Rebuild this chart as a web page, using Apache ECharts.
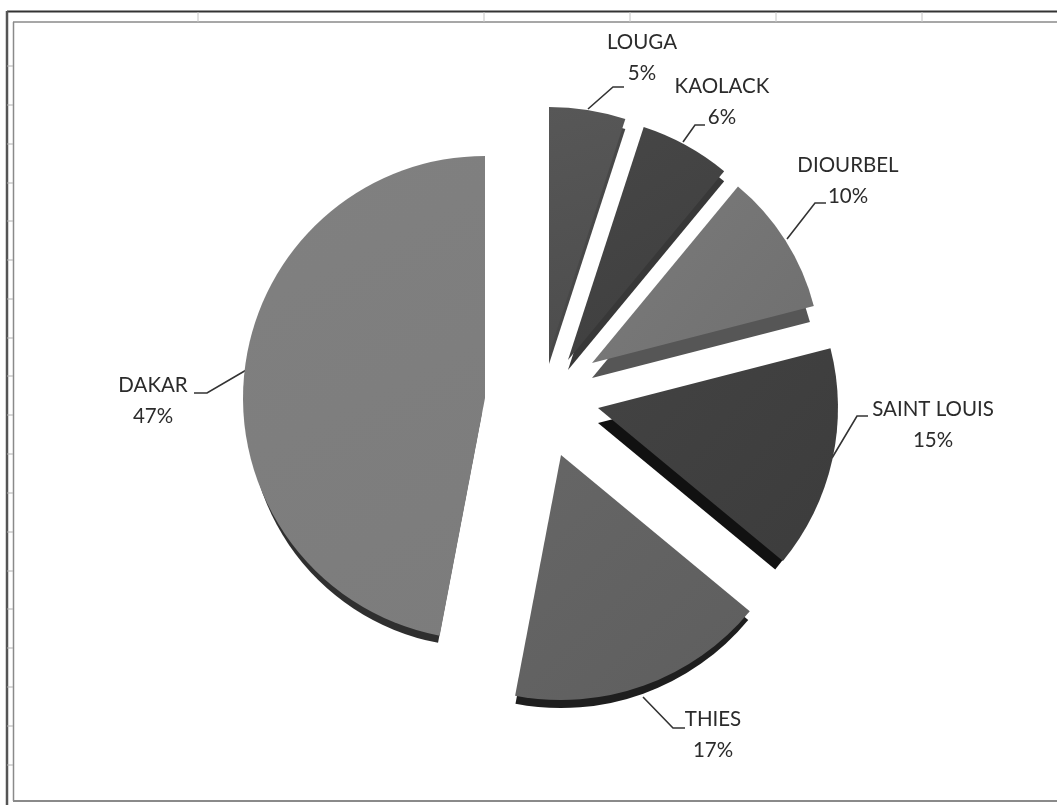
<!DOCTYPE html>
<html><head><meta charset="utf-8">
<style>html,body{margin:0;padding:0;background:#fff}#c{width:1057px;height:805px}</style>
<script src="https://cdn.jsdelivr.net/npm/echarts@6/dist/echarts.min.js"></script>
</head><body><div id="c"></div>
<script>
const categories = ['LOUGA','KAOLACK','DIOURBEL','SAINT LOUIS','THIES','DAKAR'];
const shares = [5,6,10,15,17,47];

// layout of each exploded slice (apex in px, radius)
const apexes = [[549,354],[568,360],[592,363],[598,408],[561,455],[485,398]];
const radii = [247,245,229,240,245,242];
// side face: dx, dy of the copy behind, and how much smaller its radius is
const sides = [[0,10,0],[0,10,0],[0,15,4],[0,15,10],[0,10,2],[-3.3,16,9]];
// label centre and connector points
const labelCentres = [[642,58],[722,102],[848,181],[933,425],[713,735],[153,401]];
const connectors = [
  [[588,109],[613,87],[624,87]],
  [[683,142],[695,125],[705,125]],
  [[787,239],[815,203],[826,203]],
  [[832,458],[857,416],[868,416]],
  [[643,697],[673,728],[685,728]],
  [[248,369],[207,393],[194,393]]
];
// colours
const topColors = [['#575757','#4c4c4c'],['#474747','#3e3e3e'],['#7b7b7b','#6f6f6f'],['#434343','#3c3c3c'],['#666666','#5e5e5e'],['#808080','#7c7c7c']];
const sideColors = ['#484848','#383838','#565656','#111111','#1e1e1e','#2f2f2f'];
// sheet frame
const columnTicks = [198,484,630,776,922];
const rowTicks = [66,105,144,183,221,260,299,338,376,415,454,493,532,571,609,648,687,726,765];

const total = shares.reduce((a,b)=>a+b,0);
const series = [];
let cum = 0;
categories.forEach((name,i)=>{
  const start = 90 - cum/total*360;
  const rest = total - shares[i];
  const makeData = (labelled, color) => [
    {name, value: shares[i], itemStyle:{color},
     label:{show:labelled}, labelLine:{show:labelled}},
    {name:'', value: rest, itemStyle:{color:'rgba(0,0,0,0)'}, label:{show:false}, labelLine:{show:false}}
  ];
  series.push({
    type:'pie', silent:true, z:1,
    center:[apexes[i][0]+sides[i][0],apexes[i][1]+sides[i][1]], radius:[0,radii[i]-sides[i][2]],
    startAngle:start, clockwise:true, animation:false, avoidLabelOverlap:false,
    data:makeData(false,sideColors[i])
  });
  series.push({
    type:'pie', silent:true, z:2, center:apexes[i], radius:[0,radii[i]],
    startAngle:start, clockwise:true, animation:false, avoidLabelOverlap:false,
    percentPrecision:0,
    label:{formatter:'{b}\n{d}%', fontFamily:'Lato', fontSize:20.5, color:'#2b2b2b', lineHeight:31, align:'center'},
    labelLine:{show:true, lineStyle:{color:'#333', width:1.6}},
    labelLayout:()=>({x:labelCentres[i][0], y:labelCentres[i][1], align:'center', verticalAlign:'middle', labelLinePoints:connectors[i]}),
    data:makeData(true,{type:'linear',x:0,y:0,x2:1,y2:1,colorStops:[{offset:0,color:topColors[i][0]},{offset:1,color:topColors[i][1]}]})
  });
  cum += shares[i];
});

const line=(x1,y1,x2,y2,stroke,w)=>({type:'line',silent:true,z:0,shape:{x1,y1,x2,y2},style:{stroke,lineWidth:w}});
const frame=[
  line(7,11.5,1057,11.5,'#333',2),
  line(7,11,7,805,'#555',2.5),
  line(13.5,22,13.5,801,'#8a8a8a',1.5),
  line(13,22,1057,22,'#8a8a8a',1.5),
  line(13,801,1057,801,'#8a8a8a',2),
  ...columnTicks.map(x=>line(x,12,x,22,'#c4c4c4',1)),
  ...rowTicks.map(y=>line(7,y,13,y,'#b0b0b0',1))
];

const chart=echarts.init(document.getElementById('c'),null,{renderer:'canvas'});
chart.setOption({backgroundColor:'#fff',animation:false,tooltip:{show:false},series,graphic:{elements:frame}});
</script></body></html>
